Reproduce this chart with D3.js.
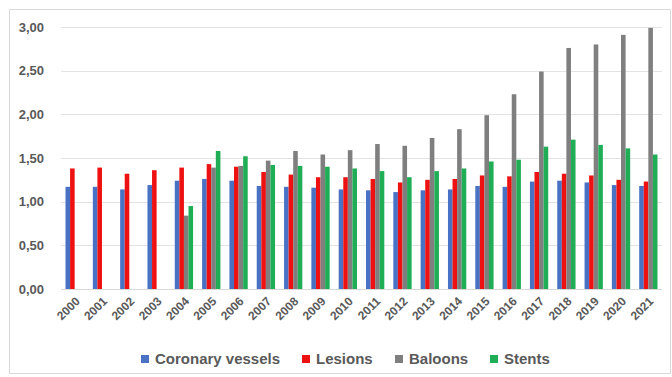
<!DOCTYPE html>
<html>
<head>
<meta charset="utf-8">
<script src="https://cdn.jsdelivr.net/npm/d3@7/dist/d3.min.js"></script>
<style>
  html, body { margin: 0; padding: 0; background: #fff; }
  svg { display: block; }
  text { font-family: "Liberation Sans", Arial, sans-serif; font-weight: bold; fill: #595959; }
</style>
</head>
<body>
<svg id="chart" width="672" height="377"></svg>
<script>
// Yearly averages per procedure
const years = ["2000","2001","2002","2003","2004","2005","2006","2007","2008","2009","2010",
               "2011","2012","2013","2014","2015","2016","2017","2018","2019","2020","2021"];
const seriesNames = ["Coronary vessels", "Lesions", "Baloons", "Stents"];
const coronaryVessels = [1.17,1.17,1.14,1.19,1.24,1.26,1.24,1.18,1.17,1.16,1.14,
                         1.13,1.11,1.13,1.14,1.18,1.17,1.23,1.24,1.22,1.19,1.18];
const lesions = [1.38,1.39,1.32,1.36,1.39,1.43,1.40,1.34,1.31,1.28,1.28,
                 1.26,1.22,1.25,1.26,1.30,1.29,1.34,1.32,1.30,1.25,1.23];
const baloons = [null,null,null,null,0.84,1.39,1.41,1.47,1.58,1.54,1.59,
                 1.66,1.64,1.73,1.83,1.99,2.23,2.49,2.76,2.80,2.91,2.99];
const stents = [null,null,null,null,0.95,1.58,1.52,1.42,1.41,1.40,1.38,
                1.35,1.28,1.35,1.38,1.46,1.48,1.63,1.71,1.65,1.61,1.54];
const yTicks = [0, 0.5, 1, 1.5, 2, 2.5, 3];
const colors = ["#4a72c4", "#ee1111", "#7f7f7f", "#1fae55"];

const allSeries = [coronaryVessels, lesions, baloons, stents];
const svg = d3.select("#chart");

// chart frame
svg.append("rect")
  .attr("x", 9.5).attr("y", 9.5).attr("width", 661).attr("height", 364)
  .attr("fill", "#fff").attr("stroke", "#d9d9d9");

const plot = { left: 61, right: 662, top: 27, bottom: 289 };

const x0 = d3.scaleBand().domain(years).range([plot.left, plot.right])
  .paddingInner(0.33).paddingOuter(0.165);
const x1 = d3.scaleBand().domain(seriesNames).range([0, x0.bandwidth()]).padding(0);
const y = d3.scaleLinear().domain([0, 3]).range([plot.bottom, plot.top]);

const fmt = d => d3.format(".2f")(d).replace(".", ",");

// gridlines
svg.append("g").selectAll("line").data(yTicks.filter(t => t > 0)).join("line")
  .attr("x1", plot.left).attr("x2", plot.right)
  .attr("y1", d => Math.round(y(d)) + 0.5).attr("y2", d => Math.round(y(d)) + 0.5)
  .attr("stroke", "#e3e3e3").attr("stroke-width", 1);

// y axis labels
const yAxis = svg.append("g").attr("transform", `translate(${plot.left - 14},0)`)
  .call(d3.axisLeft(y).tickValues(yTicks).tickFormat(fmt).tickSize(0));
yAxis.select(".domain").remove();
yAxis.selectAll("text").attr("font-size", 13).attr("fill", "#595959")
  .style("font-family", "'Liberation Sans', Arial, sans-serif").style("font-weight", "bold");

// bars
const groups = svg.append("g").selectAll("g").data(years).join("g")
  .attr("transform", d => `translate(${x0(d)},0)`);
groups.selectAll("rect")
  .data((yr, i) => seriesNames.map((s, k) => ({ s, k, v: allSeries[k][i] })).filter(d => d.v != null))
  .join("rect")
  .attr("x", d => x1(d.s))
  .attr("width", x1.bandwidth())
  .attr("y", d => y(d.v))
  .attr("height", d => y(0) - y(d.v))
  .attr("fill", d => colors[d.k]);

// category axis line
const xAxis = svg.append("g").attr("transform", `translate(0,${plot.bottom})`)
  .call(d3.axisBottom(x0).tickSize(0).tickFormat(""));
xAxis.select(".domain").attr("stroke", "#d9d9d9").attr("d", `M${plot.left},0.5H${plot.right}`);

// slanted year labels, right end pinned just below each group
svg.append("g").selectAll("text").data(years).join("text")
  .attr("font-size", 12)
  .attr("text-anchor", "end")
  .attr("dy", "0.35em")
  .attr("transform", d => {
    const cx = x0(d) + x0.bandwidth() / 2 + 3;
    return `translate(${cx},${plot.bottom + 10}) rotate(-45)`;
  })
  .text(d => d);

// legend
const legendItems = [
  { name: seriesNames[0], x: 141 },
  { name: seriesNames[1], x: 302 },
  { name: seriesNames[2], x: 395 },
  { name: seriesNames[3], x: 490 }
];
const legend = svg.append("g").selectAll("g").data(legendItems).join("g")
  .attr("transform", d => `translate(${d.x},359)`);
legend.append("rect").attr("x", 0).attr("y", -4).attr("width", 8).attr("height", 8)
  .attr("fill", (d, i) => colors[i]);
legend.append("text").attr("x", 14).attr("y", 0).attr("dy", "0.35em")
  .attr("font-size", 15).text(d => d.name);
</script>
</body>
</html>
